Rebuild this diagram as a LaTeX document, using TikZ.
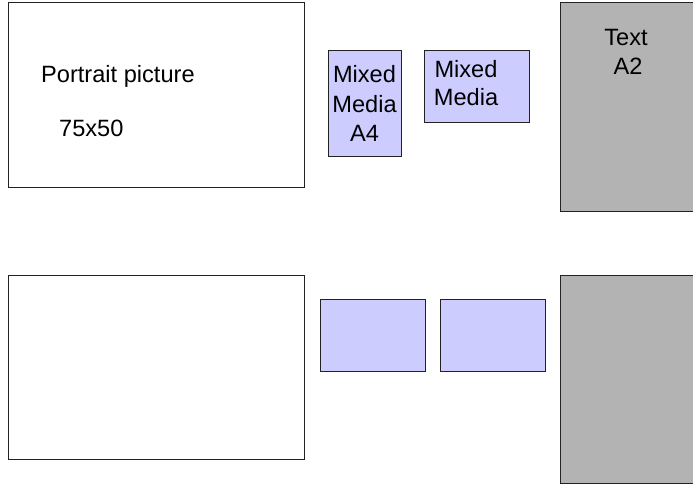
\documentclass[tikz,border=0pt]{standalone}
\usepackage{fontspec}
\setmainfont{Liberation Sans}
\definecolor{mediablue}{HTML}{CCCCFF}
\definecolor{textgray}{HTML}{B3B3B3}
\definecolor{edgegray}{HTML}{222222}
\tikzset{
    frame/.style={draw=edgegray,line width=1pt},
    label text/.style={inner sep=0pt,anchor=base west},
    centre text/.style={inner sep=0pt,anchor=base}
}
\begin{document}
\begin{tikzpicture}[x=1pt,y=-1pt,font=\fontsize{23.6}{29}\selectfont]
                \useasboundingbox (0,0) rectangle (693,484);
                \clip (0,0) rectangle (693,484);
                % pictures, mixed media, text
                \foreach \y/\h in {3/187,275/459}
                {
                    \draw[frame,fill=white] (8,\y) rectangle (304,\h);
                }
                \foreach \x/\y/\w/\h in {328/51/73/105,424/51/105/72,320/299/105/72,440/299/105/72}
                {
                    \draw[frame,fill=mediablue] (\x,\y) rectangle (\x+\w,\y+\h);
                }
                \foreach \y/\h in {3/211,275/483}
                {
                    \draw[frame,fill=textgray] (560,\y) rectangle (700,\h);
                }
                \node[label text] (portrait) at (41,83) {Portrait picture};
                \node[label text] (size) at (59,136) {75x50};
                \node[centre text] (mixedA) at (364.5,83) {Mixed};
                \node[centre text] (mediaA) at (364.5,113) {Media};
                \node[centre text] (sizeA) at (364.5,142) {A4};
                \node[centre text] (mixedB) at (466,78) {Mixed};
                \node[centre text] (mediaB) at (466,106) {Media};
                \node[centre text] (textA) at (626,46) {Text};
                \node[centre text] (sizeB) at (628,75) {A2};
            \end{tikzpicture}
\end{document}
